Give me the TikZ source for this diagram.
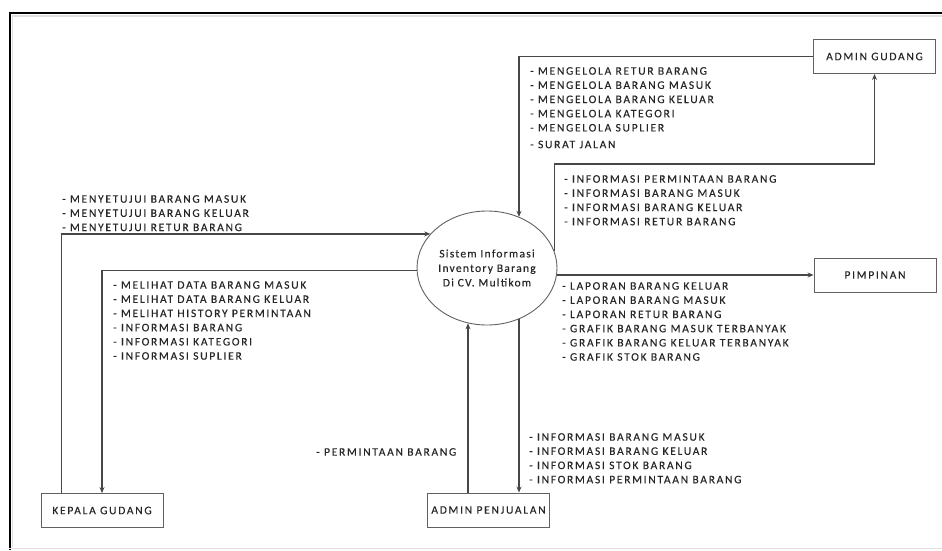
\documentclass[tikz,border=0pt]{standalone}
\usepackage{fontspec}
\setmainfont{Carlito}
\usetikzlibrary{calc, arrows.meta, shapes.geometric}

\newcommand{\flowfont}{\fontsize{11.5}{14.2}\selectfont\addfontfeatures{LetterSpace=15, FakeBold=0.3}}
\newcommand{\procfont}{\fontsize{11.5}{14.5}\selectfont\addfontfeatures{LetterSpace=11, FakeBold=0.3}}

\begin{document}
\begin{tikzpicture}[x=1pt, y=-1pt,
    flow/.style={draw=black!72, line width=1.2pt, -{Stealth[length=6pt, width=5pt]}},
    entity/.style={draw=black!62, line width=0.9pt, minimum width=122pt, minimum height=34pt,
        inner sep=0pt, text=black!85, font=\flowfont},
    process/.style={ellipse, draw=black!62, line width=0.9pt, minimum width=140pt,
        minimum height=114pt, inner sep=0pt, align=center, text=black!85, font=\procfont},
    flowtext/.style={anchor=north west, inner sep=0pt, align=left, text=black!85, font=\flowfont}]
        \useasboundingbox (0,0) rectangle (942,550);
        \draw[black, line width=2pt] (9.5,550) -- (9.5,13) -- (942,13);
        \draw[black!12, line width=1.5pt] (12.5,547) -- (12.5,16) -- (942,16);
        \draw[black!12, line width=1.5pt] (9,548.5) -- (942,548.5);
        \node[entity] (agudang) at (874.5,56.5) {ADMIN GUDANG};
        \node[entity] (pim) at (875,275) {PIMPINAN};
        \node[entity] (kepala) at (102,510.5) {KEPALA GUDANG};
        \node[entity] (apenj) at (488.5,510) {ADMIN PENJUALAN};
        \node[process] (sis) at (487,268) {Sistem Informasi\\Inventory Barang\\Di CV. Multikom};
        \draw[flow] (agudang.west) -| (sis.58);
        \draw[flow] (sis.14) |- ($(agudang.south)+(0,90)$) -- (agudang.south);
        \draw[flow] (sis.-6 |- pim.west) -- (pim.west);
        \draw[flow] ([xshift=-40.5pt]kepala.north) |- (sis.149);
        \draw[flow] (sis.182) -| (kepala.north);
        \draw[flow] (sis.251 |- apenj.north) -- (sis.251);
        \draw[flow] (sis.-58) -- (sis.-58 |- apenj.north);
        \node[flowtext] (tkelola) at (530,67) {- MENGELOLA RETUR BARANG\\- MENGELOLA BARANG MASUK\\- MENGELOLA BARANG KELUAR\\- MENGELOLA KATEGORI\\- MENGELOLA SUPLIER\\[2.5pt]- SURAT JALAN};
        \node[flowtext] (tinfogd) at (564,175) {- INFORMASI PERMINTAAN BARANG\\- INFORMASI BARANG MASUK\\- INFORMASI BARANG KELUAR\\- INFORMASI RETUR BARANG};
        \node[flowtext] (tsetuju) at (62,195) {- MENYETUJUI BARANG MASUK\\- MENYETUJUI BARANG KELUAR\\- MENYETUJUI RETUR BARANG};
        \node[flowtext] (tlihat) at (113,281) {- MELIHAT DATA BARANG MASUK\\- MELIHAT DATA BARANG KELUAR\\- MELIHAT HISTORY PERMINTAAN\\- INFORMASI BARANG\\- INFORMASI KATEGORI\\- INFORMASI SUPLIER};
        \node[flowtext] (tlapor) at (562,282) {- LAPORAN BARANG KELUAR\\- LAPORAN BARANG MASUK\\- LAPORAN RETUR BARANG\\- GRAFIK BARANG MASUK TERBANYAK\\- GRAFIK BARANG KELUAR TERBANYAK\\- GRAFIK STOK BARANG};
        \node[flowtext] (tminta) at (316,448) {- PERMINTAAN BARANG};
        \node[flowtext] (tinfopj) at (529,433) {- INFORMASI BARANG MASUK\\- INFORMASI BARANG KELUAR\\- INFORMASI STOK BARANG\\- INFORMASI PERMINTAAN BARANG};
    \end{tikzpicture}
\end{document}
